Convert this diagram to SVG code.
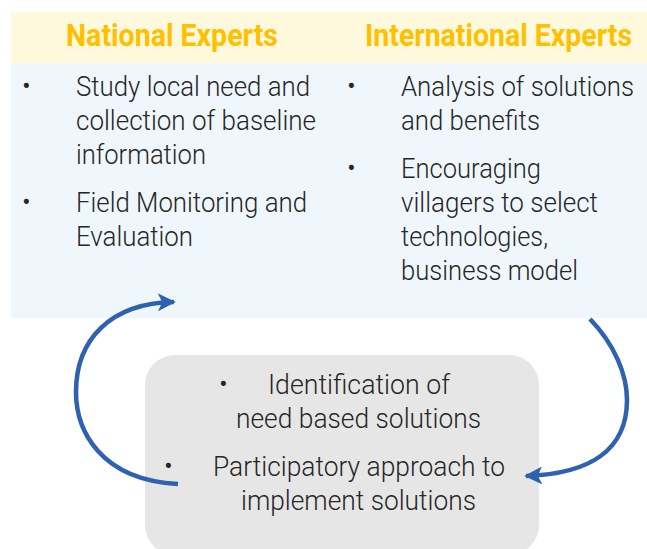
<svg xmlns="http://www.w3.org/2000/svg" width="647" height="549" viewBox="0 0 647 549">
<defs>
<style>
.title{font-family:"Roboto","Liberation Sans",sans-serif;font-weight:bold;font-size:31px;fill:#FFC000}
.body{font-family:"Roboto","Liberation Sans",sans-serif;font-weight:300;font-size:27px;fill:#262626}
.conn{fill:none;stroke:#2E62AE;stroke-width:4.5}
</style>
<marker id="ah" viewBox="0 0 10 10" refX="9" refY="5" markerWidth="5" markerHeight="4" orient="auto" markerUnits="strokeWidth">
<path d="M0,0 L10,5 L0,10 L2.5,5 Z" fill="#2E62AE"/>
</marker>
</defs>
<rect width="647" height="549" fill="#ffffff"/>
<g id="header">
<rect x="11" y="12" width="636" height="51" fill="#FEF9DC"/>
<text class="title" transform="translate(66,46) scale(0.86,1)" x="0" y="0" textLength="246.5" lengthAdjust="spacingAndGlyphs">National Experts</text>
<text class="title" transform="translate(365,46) scale(0.86,1)" x="0" y="0" textLength="310.5" lengthAdjust="spacingAndGlyphs">International Experts</text>
</g>
<g id="experts">
<rect x="11" y="63" width="636" height="255" fill="#EFF7FD"/>
<g class="body">
<text x="22" y="95">•</text>
<text x="76" y="96" textLength="234" lengthAdjust="spacingAndGlyphs">Study local need and</text>
<text x="76" y="130" textLength="240" lengthAdjust="spacingAndGlyphs">collection of baseline</text>
<text x="76" y="164" textLength="130" lengthAdjust="spacingAndGlyphs">information</text>
<text x="22" y="211">•</text>
<text x="76" y="212" textLength="231" lengthAdjust="spacingAndGlyphs">Field Monitoring and</text>
<text x="76" y="246" textLength="117" lengthAdjust="spacingAndGlyphs">Evaluation</text>
<text x="347" y="95">•</text>
<text x="401" y="96" textLength="233" lengthAdjust="spacingAndGlyphs">Analysis of solutions</text>
<text x="401" y="130" textLength="139" lengthAdjust="spacingAndGlyphs">and benefits</text>
<text x="347" y="177">•</text>
<text x="401" y="178" textLength="140" lengthAdjust="spacingAndGlyphs">Encouraging</text>
<text x="401" y="212" textLength="197" lengthAdjust="spacingAndGlyphs">villagers to select</text>
<text x="401" y="246" textLength="147" lengthAdjust="spacingAndGlyphs">technologies,</text>
<text x="401" y="280" textLength="177" lengthAdjust="spacingAndGlyphs">business model</text>
</g>
</g>
<g id="solutions">
<rect x="145" y="355" width="394" height="200" rx="30" ry="30" fill="#E6E6E6"/>
<g class="body">
<text x="219" y="393">•</text>
<text x="268" y="394" textLength="182" lengthAdjust="spacingAndGlyphs">Identification of</text>
<text x="236" y="428" textLength="245" lengthAdjust="spacingAndGlyphs">need based solutions</text>
<text x="164" y="475">•</text>
<text x="213" y="476" textLength="292" lengthAdjust="spacingAndGlyphs">Participatory approach to</text>
<text x="241" y="510" textLength="235" lengthAdjust="spacingAndGlyphs">implement solutions</text>
</g>
</g>
<g id="connectors">
<path class="conn" d="M178,484 C100,480 76,430 76,392 C76,340 110,303 174,302" marker-end="url(#ah)"/>
<path class="conn" d="M590,319 C615,345 627,375 627,400 C627,450 590,474 526,476" marker-end="url(#ah)"/>
</g>
</svg>
